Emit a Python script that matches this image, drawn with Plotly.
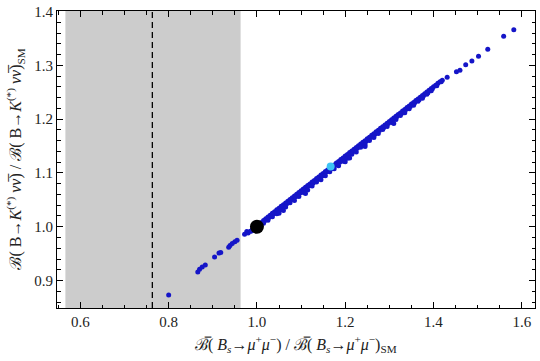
import plotly.graph_objects as go

# sparse points below the band (inside the excluded grey region)
low_x = [0.800, 0.866, 0.870, 0.876, 0.883, 0.904, 0.914, 0.918, 0.936, 0.939,
         0.944, 0.950, 0.955, 0.972, 0.977]
low_y = [0.873, 0.916, 0.921, 0.925, 0.929, 0.944, 0.951, 0.952, 0.962, 0.965,
         0.969, 0.972, 0.975, 0.986, 0.991]

# dense band, upper row
band_a_x = [0.980, 0.985, 0.990, 0.995, 1.000, 1.005, 1.010, 1.015, 1.020, 1.025,
            1.030, 1.035, 1.040, 1.045, 1.050, 1.055, 1.060, 1.065, 1.070, 1.075,
            1.080, 1.085, 1.090, 1.095, 1.100, 1.105, 1.110, 1.115, 1.120, 1.125,
            1.130, 1.135, 1.140, 1.145, 1.150, 1.155, 1.160, 1.165, 1.170, 1.175,
            1.180, 1.185, 1.190, 1.195, 1.200, 1.205, 1.210, 1.215, 1.220, 1.225,
            1.230, 1.235, 1.240, 1.245, 1.250, 1.255, 1.260, 1.265, 1.270, 1.275,
            1.280, 1.285, 1.290, 1.295, 1.300, 1.305, 1.310, 1.315, 1.320, 1.325,
            1.330, 1.335, 1.340, 1.345, 1.350, 1.355, 1.360, 1.365, 1.370, 1.375,
            1.380, 1.385, 1.390, 1.395, 1.400, 1.405, 1.410, 1.415, 1.420]
band_a_y = [0.9885, 0.9915, 0.9950, 0.9980, 1.0015, 1.0050, 1.0080, 1.0115, 1.0150, 1.0180,
            1.0215, 1.0250, 1.0280, 1.0315, 1.0345, 1.0380, 1.0410, 1.0440, 1.0475, 1.0505,
            1.0540, 1.0570, 1.0605, 1.0635, 1.0670, 1.0700, 1.0735, 1.0765, 1.0795, 1.0830,
            1.0860, 1.0895, 1.0925, 1.0960, 1.0990, 1.1025, 1.1055, 1.1090, 1.1120, 1.1150,
            1.1185, 1.1215, 1.1250, 1.1280, 1.1315, 1.1345, 1.1380, 1.1410, 1.1440, 1.1475,
            1.1505, 1.1540, 1.1570, 1.1600, 1.1635, 1.1665, 1.1700, 1.1730, 1.1765, 1.1795,
            1.1830, 1.1860, 1.1890, 1.1925, 1.1955, 1.1990, 1.2020, 1.2055, 1.2085, 1.2115,
            1.2150, 1.2180, 1.2215, 1.2245, 1.2280, 1.2310, 1.2345, 1.2375, 1.2405, 1.2440,
            1.2470, 1.2505, 1.2535, 1.2570, 1.2600, 1.2630, 1.2665, 1.2695, 1.2725]

# dense band, middle row
band_c_x = [0.9875, 0.9975, 1.0075, 1.0175, 1.0275, 1.0375, 1.0475, 1.0575, 1.0675, 1.0775,
            1.0875, 1.0975, 1.1075, 1.1175, 1.1275, 1.1375, 1.1475, 1.1575, 1.1675, 1.1775,
            1.1875, 1.1975, 1.2075, 1.2175, 1.2275, 1.2375, 1.2475, 1.2575, 1.2675, 1.2775,
            1.2875, 1.2975, 1.3075, 1.3175, 1.3275, 1.3375, 1.3475, 1.3575, 1.3675, 1.3775,
            1.3875, 1.3975, 1.4075, 1.4175]
band_c_y = [0.9919, 0.9984, 1.0040, 1.0113, 1.0170, 1.0242, 1.0298, 1.0371, 1.0428, 1.0500,
            1.0556, 1.0629, 1.0685, 1.0758, 1.0814, 1.0887, 1.0943, 1.1016, 1.1072, 1.1145,
            1.1201, 1.1274, 1.1330, 1.1403, 1.1459, 1.1532, 1.1588, 1.1661, 1.1717, 1.1790,
            1.1846, 1.1919, 1.1975, 1.2048, 1.2104, 1.2177, 1.2233, 1.2306, 1.2362, 1.2435,
            1.2491, 1.2564, 1.2620, 1.2693]

# dense band, lower row + a few stragglers
band_b_x = [1.005, 1.015, 1.025, 1.035, 1.045, 1.055, 1.065, 1.075, 1.085, 1.095,
            1.105, 1.115, 1.125, 1.135, 1.145, 1.155, 1.165, 1.175, 1.185, 1.195,
            1.205, 1.215, 1.225, 1.235, 1.245, 1.255, 1.265, 1.275, 1.285, 1.295,
            1.305, 1.315, 1.325, 1.335, 1.345, 1.355, 1.365, 1.375, 1.385, 1.395,
            1.050, 1.060, 1.110, 1.200, 1.210, 1.245, 1.310]
band_b_y = [1.0007, 1.0067, 1.0121, 1.0186, 1.0240, 1.0315, 1.0369, 1.0444, 1.0488, 1.0563,
            1.0637, 1.0682, 1.0756, 1.0831, 1.0875, 1.0950, 1.1024, 1.1079, 1.1133, 1.1218,
            1.1272, 1.1347, 1.1391, 1.1476, 1.1530, 1.1605, 1.1659, 1.1734, 1.1808, 1.1863,
            1.1937, 1.1992, 1.2066, 1.2121, 1.2195, 1.2260, 1.2334, 1.2389, 1.2463, 1.2528,
            1.0250, 1.0300, 1.0620, 1.1210, 1.1280, 1.1490, 1.1920]

# sparse points at the top end
high_x = [1.431, 1.452, 1.460, 1.473, 1.487, 1.502, 1.523, 1.559, 1.582]
high_y = [1.278, 1.288, 1.291, 1.301, 1.308, 1.317, 1.330, 1.354, 1.366]

sm_point = (1.0, 1.0)
bench_point = (1.167, 1.112)
excluded = (0.566, 0.963)
bound = 0.763

xs = low_x + band_a_x + band_c_x + band_b_x + high_x
ys = low_y + band_a_y + band_c_y + band_b_y + high_y

serif = "Liberation Serif"

fig = go.Figure()
fig.add_vrect(x0=excluded[0], x1=excluded[1], fillcolor="#cccccc", line_width=0, layer="below")
fig.add_vline(x=bound, line=dict(color="black", width=1.3, dash="6px,4px"))

fig.add_trace(go.Scatter(x=xs, y=ys, mode="markers",
                         marker=dict(size=5, color="#1515c8"), showlegend=False))
fig.add_trace(go.Scatter(x=[bench_point[0]], y=[bench_point[1]], mode="markers",
                         marker=dict(size=8, color="#3cc3f5"), showlegend=False))
fig.add_trace(go.Scatter(x=[sm_point[0]], y=[sm_point[1]], mode="markers",
                         marker=dict(size=14, color="black"), showlegend=False))

axis_common = dict(showgrid=False, zeroline=False, showline=True, linecolor="black",
                   linewidth=1, mirror="ticks", ticks="inside", tickcolor="black",
                   ticklen=6, tickwidth=1, automargin=False,
                   tickfont=dict(family=serif, size=15, color="#222"))

fig.update_xaxes(range=[0.547, 1.630], dtick=0.2, tick0=0.6, tickformat=".1f",
                 minor=dict(ticks="inside", dtick=0.05, tick0=0.6, ticklen=3.5, tickcolor="black"),
                 **axis_common)
fig.update_yaxes(range=[0.849, 1.401], dtick=0.1, tick0=0.9, tickformat=".1f",
                 minor=dict(ticks="inside", dtick=0.02, tick0=0.9, ticklen=3.5, tickcolor="black"),
                 **axis_common)

x_title = ("ℬ\u0305( <i>B<sub>s</sub></i>→<i>μ</i><sup>+</sup><i>μ</i><sup>−</sup>)"
           " / ℬ\u0305( <i>B<sub>s</sub></i>→<i>μ</i><sup>+</sup><i>μ</i><sup>−</sup>)<sub>SM</sub>")
y_title = ("ℬ( B→<i>K</i><sup>(*)</sup> <i>ν</i><i>ν\u0305</i>)"
           " / ℬ( B→<i>K</i><sup>(*)</sup> <i>ν</i><i>ν\u0305</i>)<sub>SM</sub>")

fig.add_annotation(text=x_title, xref="paper", yref="paper", x=0.5, y=0,
                   xanchor="center", yanchor="middle", yshift=-36, showarrow=False,
                   font=dict(family=serif, size=16, color="#222"))
fig.add_annotation(text=y_title, xref="paper", yref="paper", x=0, y=0.5,
                   xanchor="center", yanchor="middle", xshift=-42, textangle=-90,
                   showarrow=False, font=dict(family=serif, size=16, color="#222"))

fig.update_layout(width=540, height=361, margin=dict(l=57, r=5, t=11, b=53),
                  plot_bgcolor="white", paper_bgcolor="white")

# drop the browser's default body margin so the figure sits at the page corner
fig.write_html("out.html", config={"displayModeBar": False},
               post_script="document.body.style.margin='0';")
